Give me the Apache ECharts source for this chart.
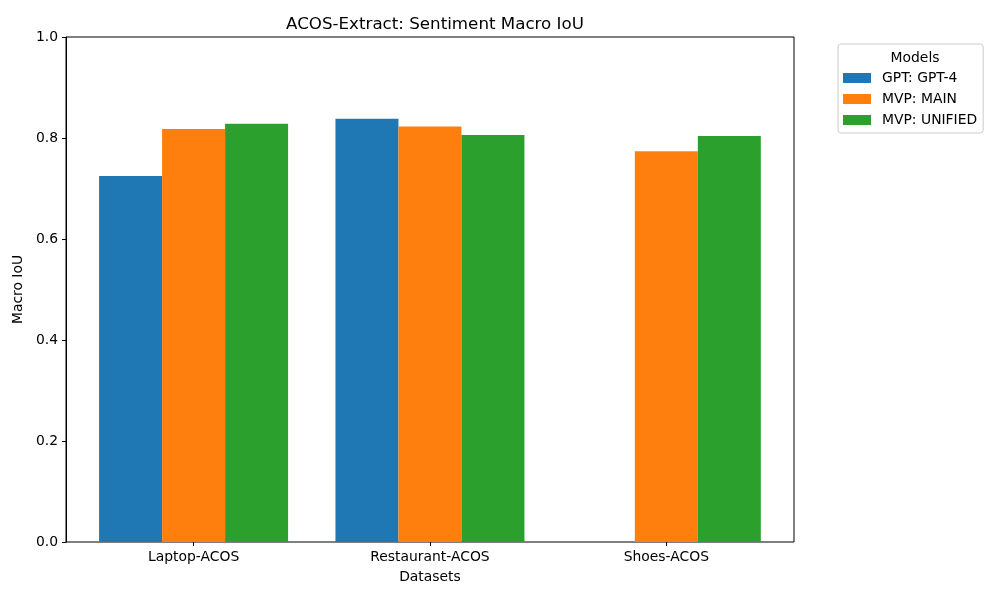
<!DOCTYPE html>
<html>
<head>
<meta charset="utf-8">
<script src="https://cdn.jsdelivr.net/npm/echarts@6/dist/echarts.min.js"></script>
<style>html,body{margin:0;padding:0;background:#fff;}#c{width:1000px;height:600px;}</style>
</head>
<body>
<div id="c"></div>
<script>
const categories = ['Laptop-ACOS', 'Restaurant-ACOS', 'Shoes-ACOS'];
const seriesNames = ['GPT: GPT-4', 'MVP: MAIN', 'MVP: UNIFIED'];
const gpt4 = [0.725, 0.838, null];
const mvpMain = [0.818, 0.823, 0.774];
const mvpUnified = [0.828, 0.806, 0.804];
const yTicks = [0.0, 0.2, 0.4, 0.6, 0.8, 1.0];
const colors = ['#1f77b4', '#ff7f0e', '#2ca02c'];

const font = 'DejaVu Sans';
const chart = echarts.init(document.getElementById('c'), null, {renderer: 'canvas'});
const values = [gpt4, mvpMain, mvpUnified];

chart.setOption({
  animation: false,
  textStyle: {fontFamily: font},
  title: [
    {text: 'ACOS-Extract: Sentiment Macro IoU', left: 430, top: 11, textAlign: 'center',
     textStyle: {fontFamily: font, fontSize: 16.7, fontWeight: 'normal', color: '#000'}},
    {text: 'Models', left: 910, top: 46, textAlign: 'center', z: 10,
     textStyle: {fontFamily: font, fontSize: 13.9, fontWeight: 'normal', color: '#000'}}
  ],
  legend: {
    orient: 'vertical', left: 838, top: 44,
    padding: [27, 6, 6, 5],
    itemWidth: 28, itemHeight: 10, itemGap: 7,
    borderColor: '#cccccc', borderWidth: 1, borderRadius: 3,
    backgroundColor: '#fff',
    data: seriesNames,
    icon: 'rect',
    textStyle: {fontFamily: font, fontSize: 13.9, color: '#000', padding: [0, 0, 0, 6]}
  },
  grid: [
    {left: 66, top: 37, width: 728, height: 505, show: true, borderColor: '#000', borderWidth: 1, backgroundColor: 'transparent'},
    {left: 75.4, top: 37, width: 709.1, height: 505}
  ],
  xAxis: [
    {gridIndex: 0, type: 'category', data: categories, show: false},
    {gridIndex: 1, type: 'category', data: categories,
     axisLine: {show: false},
     axisTick: {show: true, alignWithLabel: true, length: 4, lineStyle: {color: '#000'}},
     axisLabel: {fontFamily: font, fontSize: 13.9, color: '#000', margin: 8},
     name: 'Datasets', nameLocation: 'middle', nameGap: 28,
     nameTextStyle: {fontFamily: font, fontSize: 13.9, color: '#000'}}
  ],
  yAxis: [
    {gridIndex: 0, type: 'value', min: 0, max: 1, interval: 0.2,
     axisLine: {show: true, lineStyle: {color: '#000'}},
     axisTick: {show: true, length: 4, lineStyle: {color: '#000'}},
     splitLine: {show: false},
     axisLabel: {fontFamily: font, fontSize: 13.9, color: '#000', margin: 8,
       formatter: v => yTicks.find(t => Math.abs(t - v) < 1e-9).toFixed(1)},
     name: 'Macro IoU', nameLocation: 'middle', nameGap: 40,
     nameTextStyle: {fontFamily: font, fontSize: 13.9, color: '#000'}},
    {gridIndex: 1, type: 'value', min: 0, max: 1, show: false}
  ],
  series: seriesNames.map((n, i) => ({
    name: n, type: 'bar', xAxisIndex: 1, yAxisIndex: 1,
    data: values[i].map(v => v === null ? '-' : v),
    barWidth: 63, barGap: '0%',
    itemStyle: {color: colors[i]}
  }))
});
</script>
</body>
</html>
